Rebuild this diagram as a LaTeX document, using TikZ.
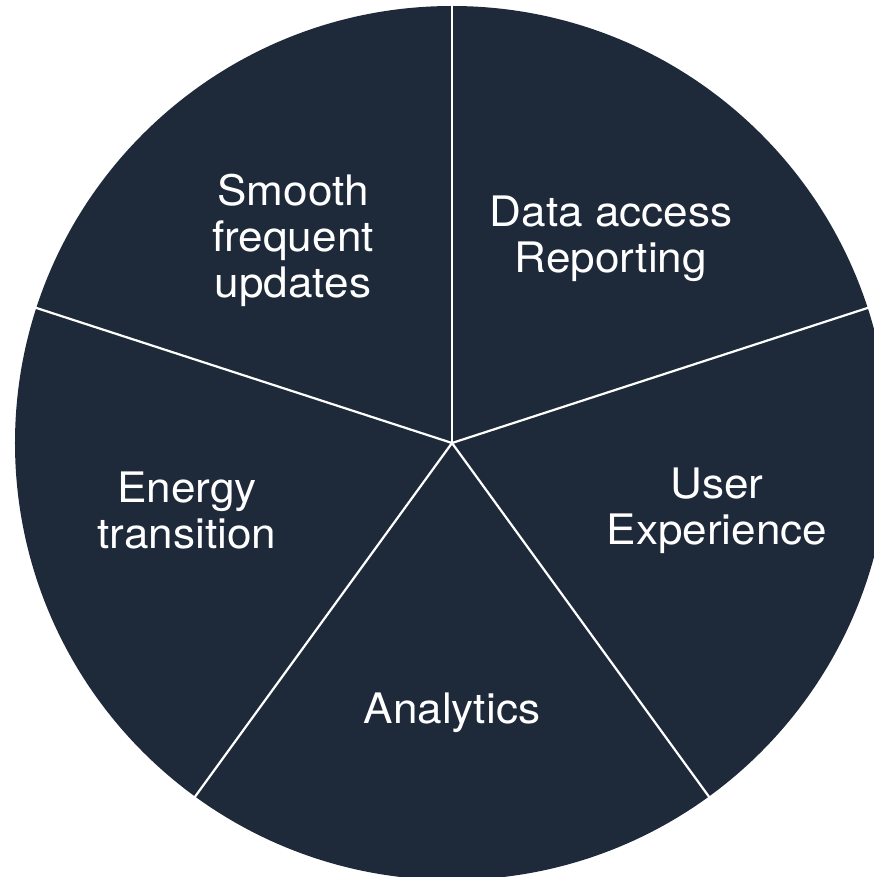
\documentclass[tikz,border=0pt]{standalone}
\usepackage{fontspec}
\setmainfont[FakeStretch=1.05]{TeX Gyre Heros}
\usepackage{tikz}
\usetikzlibrary{calc}
\definecolor{pieNavy}{HTML}{1E2A3A}

\begin{document}
\begin{tikzpicture}[x=1pt, y=1pt]
    \tikzset{
        wedgeLabel/.style={text=white, align=center, font=\fontsize{42}{46}\selectfont},
        divider/.style={white, line width=2.2pt}
    }
    % frame of the picture (circle runs off the right edge)
    \useasboundingbox (-452,-434) rectangle (422,443);
    \clip (-452,-434) rectangle (422,443);

    \coordinate (O) at (0,0);
    \fill[pieNavy] (O) circle (437);

    % five equal wedges
    \foreach \ang [count=\i] in {90, 18, -54, -126, 162} {
        \coordinate (E\i) at (\ang:440);
        \draw[divider] (O) -- (E\i);
    }

    \node[wedgeLabel] (smooth) at (-159,203) {Smooth\\frequent\\updates};
    \node[wedgeLabel] (data) at (159,204) {Data access\\Reporting};
    \node[wedgeLabel] (user) at (265,-68) {User\\Experience};
    \node[wedgeLabel] (energy) at (-265,-68) {Energy\\transition};
    \node[wedgeLabel] (analytics) at (0,-270) {Analytics};
\end{tikzpicture}
\end{document}
